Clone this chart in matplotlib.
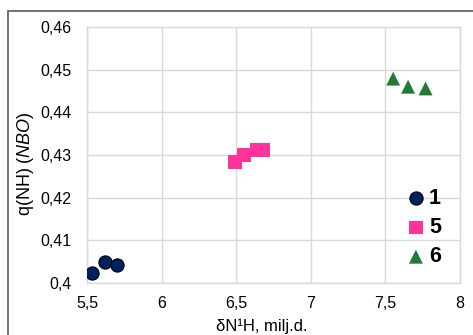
import matplotlib
matplotlib.use("Agg")
import matplotlib.pyplot as plt
from matplotlib.patches import Rectangle
from matplotlib.ticker import FuncFormatter

plt.rcParams['font.family'] = ['Liberation Sans', 'DejaVu Sans']
plt.rcParams['mathtext.fontset'] = 'custom'
plt.rcParams['mathtext.rm'] = 'Liberation Sans'
plt.rcParams['mathtext.it'] = 'Liberation Sans:italic'

# Chemical shift (ppm) vs NBO charge for compounds 1, 5, 6
labels = ["1", "5", "6"]
x1 = [5.533, 5.62, 5.70]
y1 = [0.4023, 0.4049, 0.4042]
x5 = [6.49, 6.55, 6.64, 6.68]
y5 = [0.4283, 0.4300, 0.4311, 0.4311]
x6 = [7.552, 7.652, 7.769]
y6 = [0.4479, 0.4460, 0.4456]

xticks = [5.5, 6, 6.5, 7, 7.5, 8]
yticks = [0.40, 0.41, 0.42, 0.43, 0.44, 0.45, 0.46]

W, H = 473, 335
fig = plt.figure(figsize=(W / 100, H / 100), dpi=100)
ax = fig.add_axes([87 / W, 1 - 283 / H, (460 - 87) / W, (283 - 27) / H])

ax.scatter(x1, y1, s=9.5**2, marker='o', color='#002060', edgecolors='#000000',
           linewidths=0.8, label=labels[0], zorder=3)
ax.scatter(x5, y5, s=10**2, marker='s', color='#FF3399', edgecolors='none',
           label=labels[1], zorder=3)
ax.scatter(x6, y6, s=10**2, marker='^', color='#217A35', edgecolors='none',
           label=labels[2], zorder=3)

ax.set_xlim(5.5, 8)
ax.set_ylim(0.40, 0.46)
ax.set_xticks(xticks)
ax.set_yticks(yticks)

ax.xaxis.set_major_formatter(FuncFormatter(lambda v, p: f"{v:g}".replace('.', ',')))
ax.yaxis.set_major_formatter(FuncFormatter(lambda v, p: f"{v:.2f}".rstrip('0').replace('.', ',')))
ax.tick_params(axis='both', length=0, labelsize=11.5, colors='#000000')
ax.tick_params(axis='x', pad=9)
ax.tick_params(axis='y', pad=11)

ax.grid(True, color='#d9d9d9', linewidth=1.0)
ax.set_axisbelow(True)
for sp in ax.spines.values():
    sp.set_color('#d9d9d9')
    sp.set_linewidth(1.0)

# Axis titles
fig.text(262 / W, 1 - 326 / H, "δN¹H, milj.d.", fontsize=12,
         ha='center', va='center')
fig.text(26 / W, 1 - 164 / H, r"q(NH) $\mathit{(NBO)}$", fontsize=13,
         rotation=90, ha='center', va='center')

ax.legend(loc='upper left', bbox_to_anchor=((403 - 87) / 373, (283 - 188) / 256),
          frameon=False, handletextpad=0.0, handlelength=1.2, labelspacing=0.38,
          borderaxespad=0, borderpad=0, prop={'weight': 'bold', 'size': 15.5})

# Outer frame line
fig.patches.append(Rectangle((8 / W, -0.1), 1.2, 1 - 11 / H + 0.1,
                             transform=fig.transFigure, fill=False,
                             edgecolor='#595959', linewidth=1.2))

fig.savefig("out.png", dpi=100)
